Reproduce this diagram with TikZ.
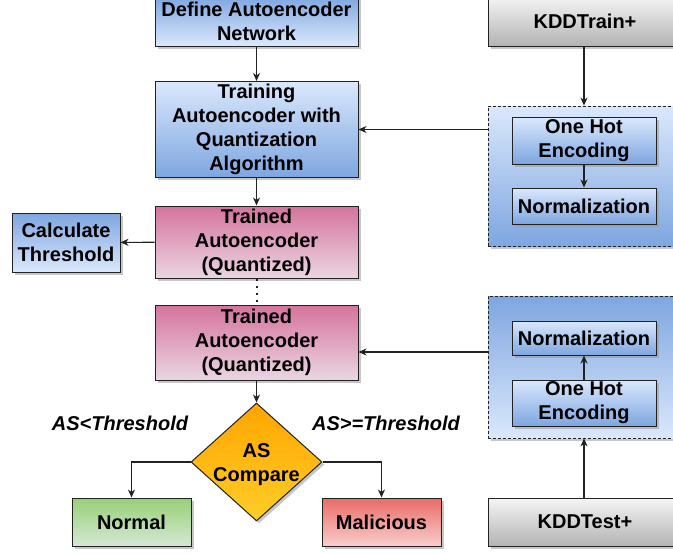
\documentclass[tikz,border=0pt]{standalone}
\usepackage{fontspec}
\setmainfont{Liberation Sans}
\usetikzlibrary{shapes.geometric,shadows,arrows.meta}
\definecolor{bL}{HTML}{DAE8FC}
\definecolor{bD}{HTML}{7EA6E0}
\definecolor{pL}{HTML}{EAD6E2}
\definecolor{pD}{HTML}{D5739D}
\definecolor{gL}{HTML}{F5F5F5}
\definecolor{gD}{HTML}{B3B3B3}
\definecolor{oL}{HTML}{FFCD28}
\definecolor{oD}{HTML}{FFA500}
\definecolor{grL}{HTML}{D5E8D4}
\definecolor{grD}{HTML}{97D077}
\definecolor{rL}{HTML}{F8CECC}
\definecolor{rD}{HTML}{EA6B66}
\definecolor{edge}{HTML}{222222}
\tikzset{
  box/.style={draw=edge, line width=1pt, inner sep=0pt, align=center,
    font=\bfseries\fontsize{20}{24}\selectfont,
    drop shadow={shadow xshift=2.5pt, shadow yshift=-2.5pt, fill=black!40, opacity=0.55}},
  blueup/.style={top color=bL, bottom color=bD},
  bluedown/.style={top color=bD, bottom color=bL},
  pinkbox/.style={top color=pD, bottom color=pL},
  graybox/.style={top color=gL, bottom color=gD},
  greenbox/.style={top color=grD, bottom color=grL},
  redbox/.style={top color=rD, bottom color=rL},
  cont/.style={draw=edge, line width=0.8pt, dash pattern=on 3pt off 2pt,
    drop shadow={shadow xshift=2.5pt, shadow yshift=-2.5pt, fill=black!40, opacity=0.55}},
  arr/.style={draw=edge, line width=1.1pt, -{Stealth[length=8pt,width=7pt,inset=2.5pt]}},
  lab/.style={font=\bfseries\itshape\fontsize{20}{24}\selectfont, fill=white, inner sep=1pt}
}
\begin{document}
\begin{tikzpicture}[x=1pt,y=-1pt]
\clip (0,0) rectangle (673,554);
\fill[white] (0,0) rectangle (673,554);
% left column
\node[box, bluedown, minimum width=203pt, minimum height=50pt] (def) at (256.5,21) {Define Autoencoder\\Network};
\node[box, blueup, minimum width=203pt, minimum height=96pt] (train) at (256.5,129.5) {Training\\Autoencoder with\\Quantization\\Algorithm};
\node[box, pinkbox, minimum width=203pt, minimum height=72pt] (tr1) at (256.5,242) {Trained\\Autoencoder\\(Quantized)};
\node[box, bluedown, minimum width=108pt, minimum height=59pt] (calc) at (66,242.5) {Calculate\\Threshold};
\node[box, pinkbox, minimum width=203pt, minimum height=75pt] (tr2) at (256.5,342.5) {Trained\\Autoencoder\\(Quantized)};
\node[box, diamond, top color=oD, bottom color=oL, minimum width=131pt, minimum height=118pt,
  label={[font=\bfseries\fontsize{20}{24}\selectfont, align=center, yshift=-2.5pt]center:AS\\Compare}] (cmp) at (256.5,462) {};
\node[box, greenbox, minimum width=119pt, minimum height=48pt] (norm) at (131.5,522) {Normal};
\node[box, redbox, minimum width=119pt, minimum height=48pt] (mal) at (381.5,522) {Malicious};
\node[lab] (l1) at (120,423) {AS<Threshold};
\node[lab] (l2) at (386,423) {AS>=Threshold};
% right column
\node[box, graybox, minimum width=194pt, minimum height=50pt] (kddtr) at (585,21) {KDDTrain+};
\node[cont, blueup, minimum width=194pt, minimum height=140pt] (c1) at (585,176) {};
\node[box, blueup, minimum width=144pt, minimum height=47pt] (ohe1) at (584,140.5) {One Hot\\Encoding};
\node[box, blueup, minimum width=144pt, minimum height=36pt] (n1) at (584,206) {Normalization};
\node[cont, bluedown, minimum width=194pt, minimum height=142pt] (c2) at (585,367) {};
\node[box, blueup, minimum width=144pt, minimum height=34pt] (n2) at (584,338) {Normalization};
\node[box, blueup, minimum width=144pt, minimum height=46pt] (ohe2) at (584,403) {One Hot\\Encoding};
\node[box, graybox, minimum width=194pt, minimum height=48pt] (kddte) at (585,522) {KDDTest+};
% connectors
\draw[arr] (def) -- (train);
\draw[arr] (train) -- (tr1);
\draw[arr] (tr1) -- (calc);
\draw[draw=edge, line width=2pt, dash pattern=on 2pt off 5pt] (tr1) -- (tr2);
\draw[arr] (tr2) -- (cmp);
\draw[arr] (cmp.west) -| (norm.north);
\draw[arr] (cmp.east) -| (mal.north);
\draw[arr] (kddtr.south -| ohe1) -- (c1.north -| ohe1);
\draw[arr] (ohe1) -- (n1);
\draw[arr] (c1.west |- train.east) -- (train.east);
\path (tr2.east) ++(0,9.5) coordinate (t2in);
\draw[arr] (c2.west |- t2in) -- (t2in);
\draw[arr] (ohe2) -- (n2);
\draw[arr] (kddte.north -| ohe2) -- (c2.south -| ohe2);
\end{tikzpicture}
\end{document}
